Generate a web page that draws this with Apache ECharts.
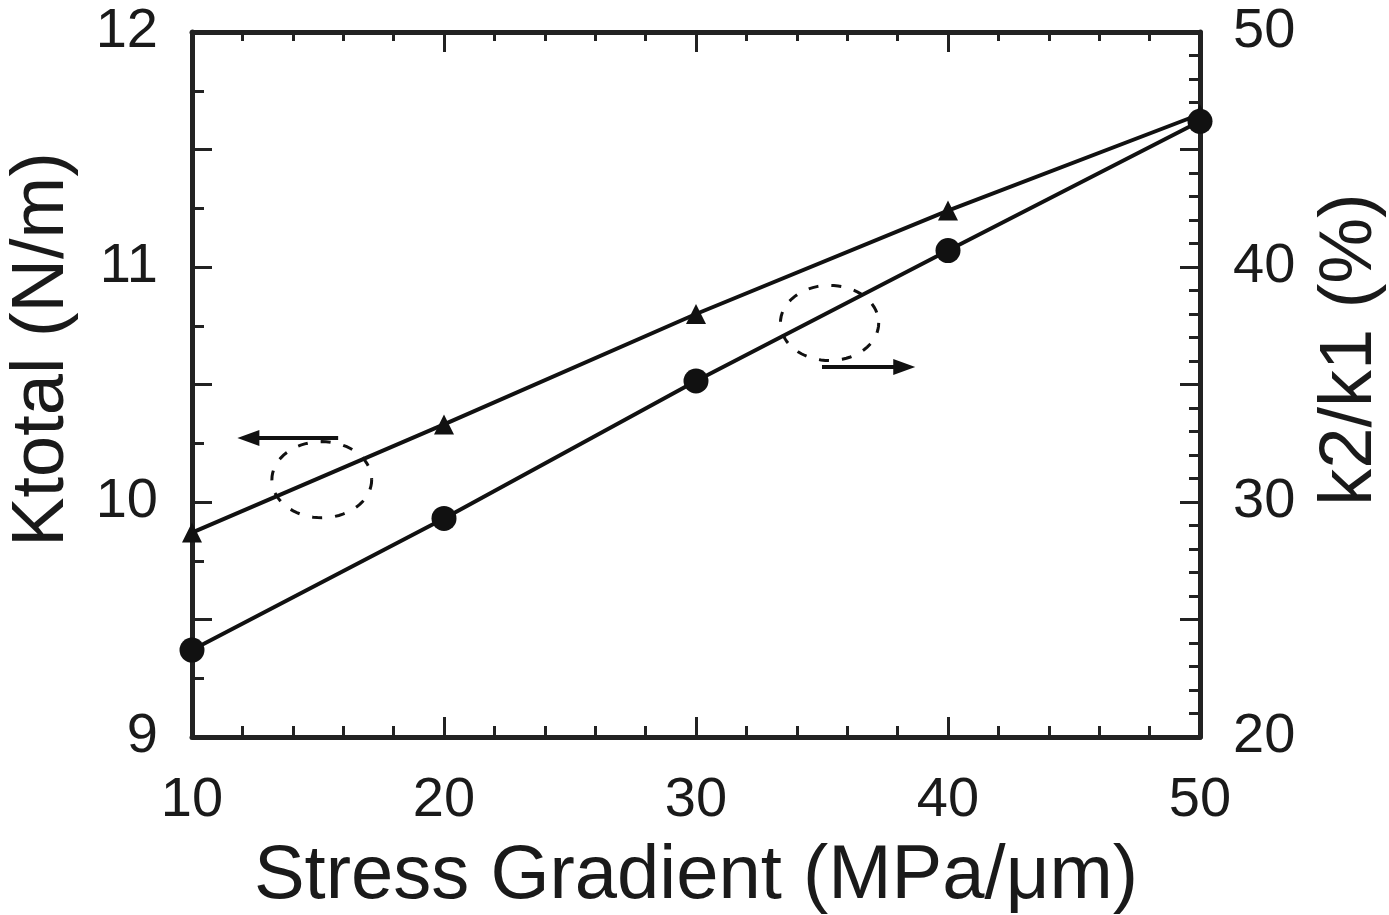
<!DOCTYPE html>
<html>
<head>
<meta charset="utf-8">
<script src="https://cdn.jsdelivr.net/npm/echarts@6/dist/echarts.min.js"></script>
<style>
html,body{margin:0;padding:0;background:#fff;}
#chart{width:1389px;height:915px;}
</style>
</head>
<body>
<div id="chart"></div>
<script>
// ---- data ----
const stressGradient = [10, 20, 30, 40, 50];
const kTotal = [9.87, 10.33, 10.80, 11.24, 11.65];      // left axis, triangles (N/m)
const k2k1 = [23.7, 29.3, 35.15, 40.7, 46.2];            // right axis, circles (%)

// annotation ellipses: [x, yLeft, rxData, ryData]
const ellipses = [[15.15, 10.095, 1.98, 0.162], [35.3, 10.762, 1.95, 0.16]];
// annotation arrows: [xFrom, xTo, yLeft]
const arrows = [[15.8, 11.8, 10.272], [35.0, 38.7, 10.574]];

const FONT = 'Liberation Sans';
const TXT = '#1a1a1a';
const AX = '#222';

const chart = echarts.init(document.getElementById('chart'));

function ellipseItem(params, api) {
  const c = api.coord([api.value(0), api.value(1)]);
  const s = api.size([api.value(2), api.value(3)]);
  const pts = [];
  for (let i = 0; i <= 72; i++) {
    const t = i / 72 * Math.PI * 2;
    pts.push([c[0] + s[0] * Math.cos(t), c[1] + s[1] * Math.sin(t)]);
  }
  return {type: 'polyline', shape: {points: pts},
    style: {stroke: '#111', lineWidth: 3, lineDash: [10, 13], fill: null}};
}
function arrowItem(params, api) {
  const a = api.coord([api.value(0), api.value(2)]);
  const b = api.coord([api.value(1), api.value(2)]);
  const dir = b[0] > a[0] ? 1 : -1;
  const hl = 22, hw = 8;
  return {type: 'group', children: [
    {type: 'line', shape: {x1: a[0], y1: a[1], x2: b[0] - dir * hl * 0.6, y2: b[1]},
      style: {stroke: '#111', lineWidth: 4}},
    {type: 'polygon', shape: {points: [[b[0], b[1]], [b[0] - dir * hl, b[1] - hw], [b[0] - dir * hl, b[1] + hw]]},
      style: {fill: '#111'}}
  ]};
}

const tickLabelStyle = {fontFamily: FONT, fontSize: 56, color: TXT};

chart.setOption({
  animation: false,
  backgroundColor: '#fff',
  grid: {left: 192, right: 189, top: 32, bottom: 178, containLabel: false, outerBoundsMode: 'none'},
  xAxis: [{
    type: 'value', min: 10, max: 50, interval: 10, position: 'bottom',
    name: 'Stress Gradient (MPa/μm)', nameLocation: 'middle', nameGap: 102,
    nameTextStyle: {fontFamily: FONT, fontSize: 76, color: TXT},
    axisLine: {show: true, lineStyle: {color: AX, width: 5}},
    axisTick: {show: true, inside: true, length: 20, lineStyle: {color: AX, width: 3}},
    minorTick: {show: true, splitNumber: 5, length: 11, lineStyle: {color: AX, width: 3}},
    axisLabel: Object.assign({margin: 36}, tickLabelStyle),
    splitLine: {show: false}
  }, {
    type: 'value', min: 10, max: 50, interval: 10, position: 'top',
    axisLine: {show: true, lineStyle: {color: AX, width: 5}},
    axisTick: {show: true, inside: true, length: 20, lineStyle: {color: AX, width: 3}},
    minorTick: {show: true, splitNumber: 5, length: 9, lineStyle: {color: AX, width: 3}},
    axisLabel: {show: false},
    splitLine: {show: false}
  }],
  yAxis: [{
    type: 'value', min: 9, max: 12, interval: 0.5, position: 'left',
    name: 'Ktotal (N/m)', nameLocation: 'middle', nameGap: 112, nameRotate: 90,
    nameTextStyle: {fontFamily: FONT, fontSize: 74, color: TXT, padding: [0, 0, 0, 70]},
    axisLine: {show: true, lineStyle: {color: AX, width: 5}},
    axisTick: {show: true, inside: true, length: 20, lineStyle: {color: AX, width: 3}},
    minorTick: {show: true, splitNumber: 2, length: 12, lineStyle: {color: AX, width: 3}},
    axisLabel: Object.assign({margin: 34, formatter: v => (Math.abs(v - Math.round(v)) < 1e-6 ? String(Math.round(v)) : '')}, tickLabelStyle),
    splitLine: {show: false}
  }, {
    type: 'value', min: 20, max: 50, interval: 5, position: 'right',
    name: 'k2/k1 (%)', nameLocation: 'middle', nameGap: 114, nameRotate: 90,
    nameTextStyle: {fontFamily: FONT, fontSize: 74, color: TXT, padding: [0, 0, 0, 70]},
    axisLine: {show: true, lineStyle: {color: AX, width: 5}},
    axisTick: {show: true, inside: true, length: 20, lineStyle: {color: AX, width: 3}},
    minorTick: {show: true, splitNumber: 5, length: 11, lineStyle: {color: AX, width: 3}},
    axisLabel: Object.assign({margin: 33, formatter: v => (v % 10 === 0 ? String(v) : '')}, tickLabelStyle),
    splitLine: {show: false}
  }],
  series: [{
    type: 'line', xAxisIndex: 0, yAxisIndex: 0,
    data: stressGradient.map((x, i) => [x, kTotal[i]]),
    symbol: 'triangle', symbolSize: 20, clip: false,
    lineStyle: {color: '#111', width: 4}, itemStyle: {color: '#111'}
  }, {
    type: 'line', xAxisIndex: 0, yAxisIndex: 1,
    data: stressGradient.map((x, i) => [x, k2k1[i]]),
    symbol: 'circle', symbolSize: 25, clip: false,
    lineStyle: {color: '#111', width: 4}, itemStyle: {color: '#111'}
  }, {
    type: 'custom', xAxisIndex: 0, yAxisIndex: 0, clip: false,
    renderItem: ellipseItem, data: ellipses, silent: true
  }, {
    type: 'custom', xAxisIndex: 0, yAxisIndex: 0, clip: false,
    renderItem: arrowItem, data: arrows, silent: true
  }]
});
</script>
</body>
</html>
